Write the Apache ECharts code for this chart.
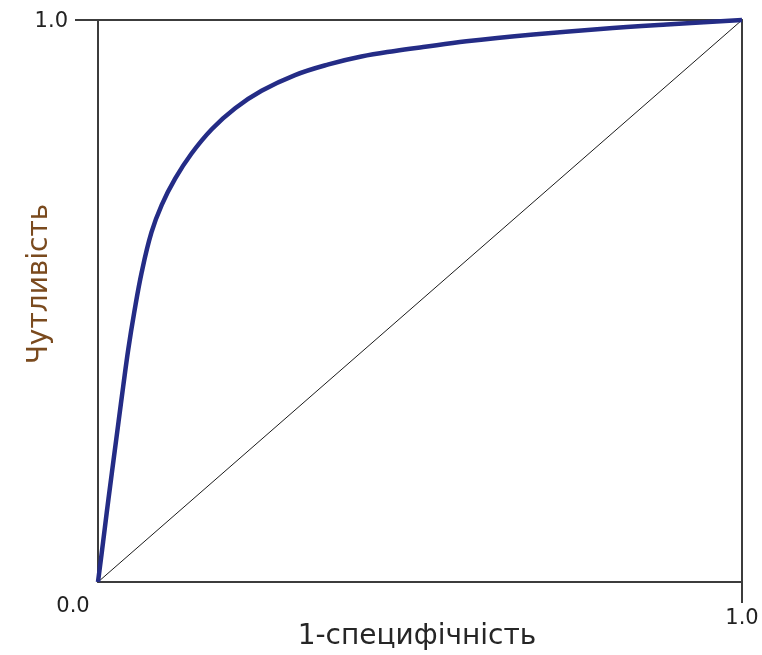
<!DOCTYPE html>
<html>
<head>
<meta charset="utf-8">
<script src="https://cdn.jsdelivr.net/npm/echarts@6/dist/echarts.min.js"></script>
<style>html,body{margin:0;padding:0;background:#fff}#c{width:762px;height:655px}</style>
</head>
<body>
<div id="c"></div>
<script>
const xTitle = '1-специфічність';
const yTitle = 'Чутливість';
const tickValues = [0, 1];
const tickLabels = ['0.0', '1.0'];
const fpr = [0, 0.008, 0.0135, 0.019, 0.024, 0.032, 0.039, 0.047, 0.056, 0.068, 0.083, 0.099, 0.120, 0.145, 0.177, 0.213, 0.254, 0.306, 0.358, 0.409, 0.461, 0.505, 0.572, 0.676, 0.780, 0.883, 1.0];
const tpr = [0, 0.072, 0.123, 0.172, 0.216, 0.286, 0.347, 0.414, 0.478, 0.552, 0.622, 0.671, 0.718, 0.762, 0.806, 0.843, 0.874, 0.902, 0.921, 0.935, 0.945, 0.952, 0.962, 0.974, 0.984, 0.992, 1.0];
const diagX = [0, 1];
const diagY = [0, 1];

const FONT = 'DejaVu Sans';
const chart = echarts.init(document.getElementById('c'));
const axisCol = '#3c3c3c';
chart.setOption({
  animation: false,
  grid: { left: 98, right: 20, top: 20, bottom: 73, containLabel: false, outerBoundsMode: 'none' },
  xAxis: [{
    type: 'value', min: 0, max: 1, position: 'bottom',
    splitLine: { show: false },
    axisLine: { show: true, onZero: false, lineStyle: { color: axisCol, width: 2 } },
    axisTick: { show: true, customValues: [tickValues[1]], length: 21, lineStyle: { color: axisCol, width: 2 } },
    axisLabel: {
      customValues: tickValues, margin: 12, color: '#222', fontFamily: FONT, fontSize: 21,
      formatter: v => v === 0 ? '{a|' + tickLabels[0] + '}' : '{b|' + tickLabels[1] + '}',
      rich: {
        a: { fontFamily: FONT, fontSize: 21, color: '#222', padding: [2, 50, 0, 0] },
        b: { fontFamily: FONT, fontSize: 21, color: '#222', padding: [14, 0, 0, 0] }
      }
    },
    name: xTitle, nameLocation: 'middle', nameGap: 41, nameMoveOverlap: false,
    nameTextStyle: { fontFamily: FONT, fontSize: 28, color: '#262626', padding: [0, 6, 0, 0] }
  }, {
    type: 'value', min: 0, max: 1, position: 'top',
    splitLine: { show: false }, axisTick: { show: false }, axisLabel: { show: false },
    axisLine: { show: true, onZero: false, lineStyle: { color: axisCol, width: 2 } }
  }],
  yAxis: [{
    type: 'value', min: 0, max: 1, position: 'left',
    splitLine: { show: false },
    axisLine: { show: true, onZero: false, lineStyle: { color: axisCol, width: 2 } },
    axisTick: { show: true, customValues: [tickValues[1]], length: 23, lineStyle: { color: axisCol, width: 2 } },
    axisLabel: {
      customValues: [tickValues[1]], margin: 30, color: '#222', fontFamily: FONT, fontSize: 21,
      formatter: () => '{c|' + tickLabels[1] + '}',
      rich: { c: { fontFamily: FONT, fontSize: 21, color: '#222', padding: [4, 0, 0, 0] } }
    },
    name: yTitle, nameLocation: 'middle', nameGap: 44, nameMoveOverlap: false,
    nameTextStyle: { fontFamily: FONT, fontSize: 28, color: '#7a4a1e', padding: [0, 0, 0, 34] }
  }, {
    type: 'value', min: 0, max: 1, position: 'right',
    splitLine: { show: false }, axisTick: { show: false }, axisLabel: { show: false },
    axisLine: { show: true, onZero: false, lineStyle: { color: axisCol, width: 2 } }
  }],
  series: [{
    type: 'line', showSymbol: false, clip: false, z: 3,
    data: diagX.map((x, i) => [x, diagY[i]]),
    lineStyle: { color: '#1a1a1a', width: 1 }
  }, {
    type: 'line', showSymbol: false, clip: false, smooth: 0.4, z: 4,
    data: fpr.map((x, i) => [x, tpr[i]]),
    lineStyle: { color: '#242c86', width: 4.5 }
  }]
});
</script>
</body>
</html>
